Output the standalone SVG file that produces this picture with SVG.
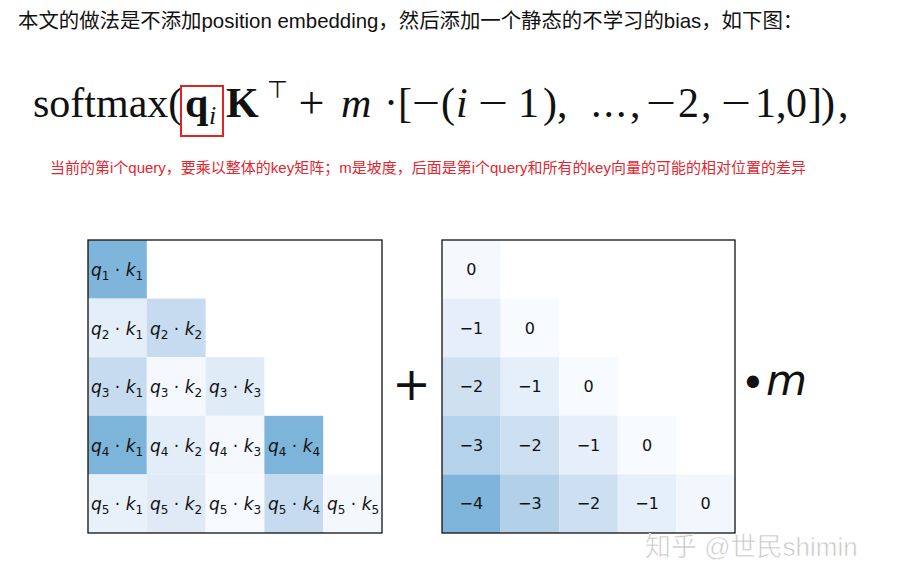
<svg xmlns="http://www.w3.org/2000/svg" width="907" height="578" viewBox="0 0 907 578">
<style>
.hdr{font-family:"Liberation Sans","Noto Sans CJK SC",sans-serif;font-size:20.4px;fill:#111}
.note{font-family:"Liberation Sans","Noto Sans CJK SC",sans-serif;font-size:15px;fill:#e3262f}
.f{font-family:"Liberation Serif","DejaVu Serif",serif;font-size:42px;fill:#111}
.fb{font-weight:bold}
.fi{font-style:italic}
.op{font-family:"DejaVu Sans",sans-serif}
.cell{font-family:"DejaVu Sans",sans-serif;font-size:17px;fill:#111}
.ci{font-style:italic}
.num{font-family:"DejaVu Sans",sans-serif;font-size:16px;fill:#111;text-anchor:middle}
.frame{fill:none;stroke:#111;stroke-width:1.3}
.wm{font-family:"Liberation Sans","Noto Sans CJK SC",sans-serif;font-size:26px;fill:#c8c8c8;stroke:#fff;stroke-width:0.6}
</style>
<rect width="907" height="578" fill="#fff"/>
<g id="header">
<text class="hdr" x="18" y="28">本文的做法是不添加position embedding，然后添加一个静态的不学习的bias，如下图：</text>
</g>
<g id="formula" class="f">
<text x="33" y="117">softmax(</text>
<rect x="181" y="86" width="42" height="50" fill="none" stroke="#e02424" stroke-width="2"/>
<text class="fb" x="185" y="117">q</text>
<text class="fi" x="209" y="124" font-size="26">i</text>
<text class="fb" x="226" y="117">K</text>
<text class="op" x="267" y="98" font-size="24">⊤</text>
<text x="298.5" y="118" font-size="46">+</text>
<text class="fi" x="341" y="117">m</text>
<text x="391" y="117" text-anchor="middle">·</text>
<text x="398" y="117">[</text>
<text x="412" y="117" textLength="28" lengthAdjust="spacingAndGlyphs">−</text>
<text x="441" y="117">(</text>
<text class="fi" x="456" y="117">i</text>
<text x="478" y="117" textLength="30" lengthAdjust="spacingAndGlyphs">−</text>
<text x="518" y="117">1</text>
<text x="543" y="117">)</text>
<text x="557" y="117">,</text>
<text x="591" y="117" letter-spacing="2">...</text>
<text x="630" y="117">,</text>
<text x="646" y="117" textLength="30" lengthAdjust="spacingAndGlyphs">−</text>
<text x="678" y="117">2</text>
<text x="701" y="117">,</text>
<text x="721" y="117" textLength="30" lengthAdjust="spacingAndGlyphs">−</text>
<text x="755" y="117">1</text>
<text x="776" y="117">,</text>
<text x="786" y="117">0</text>
<text x="808" y="117">]</text>
<text x="821" y="117">)</text>
<text x="838" y="117">,</text>
</g>
<g id="note">
<text class="note" x="50" y="173">当前的第i个query，要乘以整体的key矩阵；m是坡度，后面是第i个query和所有的key向量的可能的相对位置的差异</text>
</g>
<g id="qk-matrix">
<rect x="88" y="240" width="58.8" height="58.6" fill="#7fb5da"/>
<rect x="88" y="298.6" width="58.8" height="58.6" fill="#e3eef8"/>
<rect x="146.8" y="298.6" width="58.8" height="58.6" fill="#c6dbef"/>
<rect x="88" y="357.2" width="58.8" height="58.6" fill="#c6dbef"/>
<rect x="146.8" y="357.2" width="58.8" height="58.6" fill="#f5f9fe"/>
<rect x="205.6" y="357.2" width="58.8" height="58.6" fill="#dfebf7"/>
<rect x="88" y="415.8" width="58.8" height="58.6" fill="#7db4d9"/>
<rect x="146.8" y="415.8" width="58.8" height="58.6" fill="#e2edf8"/>
<rect x="205.6" y="415.8" width="58.8" height="58.6" fill="#f5f9fe"/>
<rect x="264.4" y="415.8" width="58.8" height="58.6" fill="#7db4d9"/>
<rect x="88" y="474.4" width="58.8" height="58.6" fill="#e8f1fa"/>
<rect x="146.8" y="474.4" width="58.8" height="58.6" fill="#dfeaf6"/>
<rect x="205.6" y="474.4" width="58.8" height="58.6" fill="#f7fbff"/>
<rect x="264.4" y="474.4" width="58.8" height="58.6" fill="#c6dbef"/>
<rect x="323.2" y="474.4" width="58.8" height="58.6" fill="#f3f8fd"/>
<g class="cell">
<text x="91" y="276"><tspan class="ci">q</tspan><tspan font-size="12" dy="4">1</tspan><tspan dy="-4"> · </tspan><tspan class="ci">k</tspan><tspan font-size="12" dy="4">1</tspan></text>
<text x="91" y="335"><tspan class="ci">q</tspan><tspan font-size="12" dy="4">2</tspan><tspan dy="-4"> · </tspan><tspan class="ci">k</tspan><tspan font-size="12" dy="4">1</tspan></text>
<text x="150" y="335"><tspan class="ci">q</tspan><tspan font-size="12" dy="4">2</tspan><tspan dy="-4"> · </tspan><tspan class="ci">k</tspan><tspan font-size="12" dy="4">2</tspan></text>
<text x="91" y="393"><tspan class="ci">q</tspan><tspan font-size="12" dy="4">3</tspan><tspan dy="-4"> · </tspan><tspan class="ci">k</tspan><tspan font-size="12" dy="4">1</tspan></text>
<text x="150" y="393"><tspan class="ci">q</tspan><tspan font-size="12" dy="4">3</tspan><tspan dy="-4"> · </tspan><tspan class="ci">k</tspan><tspan font-size="12" dy="4">2</tspan></text>
<text x="209" y="393"><tspan class="ci">q</tspan><tspan font-size="12" dy="4">3</tspan><tspan dy="-4"> · </tspan><tspan class="ci">k</tspan><tspan font-size="12" dy="4">3</tspan></text>
<text x="91" y="452"><tspan class="ci">q</tspan><tspan font-size="12" dy="4">4</tspan><tspan dy="-4"> · </tspan><tspan class="ci">k</tspan><tspan font-size="12" dy="4">1</tspan></text>
<text x="150" y="452"><tspan class="ci">q</tspan><tspan font-size="12" dy="4">4</tspan><tspan dy="-4"> · </tspan><tspan class="ci">k</tspan><tspan font-size="12" dy="4">2</tspan></text>
<text x="209" y="452"><tspan class="ci">q</tspan><tspan font-size="12" dy="4">4</tspan><tspan dy="-4"> · </tspan><tspan class="ci">k</tspan><tspan font-size="12" dy="4">3</tspan></text>
<text x="268" y="452"><tspan class="ci">q</tspan><tspan font-size="12" dy="4">4</tspan><tspan dy="-4"> · </tspan><tspan class="ci">k</tspan><tspan font-size="12" dy="4">4</tspan></text>
<text x="91" y="510"><tspan class="ci">q</tspan><tspan font-size="12" dy="4">5</tspan><tspan dy="-4"> · </tspan><tspan class="ci">k</tspan><tspan font-size="12" dy="4">1</tspan></text>
<text x="150" y="510"><tspan class="ci">q</tspan><tspan font-size="12" dy="4">5</tspan><tspan dy="-4"> · </tspan><tspan class="ci">k</tspan><tspan font-size="12" dy="4">2</tspan></text>
<text x="209" y="510"><tspan class="ci">q</tspan><tspan font-size="12" dy="4">5</tspan><tspan dy="-4"> · </tspan><tspan class="ci">k</tspan><tspan font-size="12" dy="4">3</tspan></text>
<text x="268" y="510"><tspan class="ci">q</tspan><tspan font-size="12" dy="4">5</tspan><tspan dy="-4"> · </tspan><tspan class="ci">k</tspan><tspan font-size="12" dy="4">4</tspan></text>
<text x="327" y="510"><tspan class="ci">q</tspan><tspan font-size="12" dy="4">5</tspan><tspan dy="-4"> · </tspan><tspan class="ci">k</tspan><tspan font-size="12" dy="4">5</tspan></text>
</g>
<rect class="frame" x="88" y="240" width="294" height="293"/>
</g>
<g id="plus">
<text x="411.5" y="400" font-family="DejaVu Sans" font-size="46" text-anchor="middle" fill="#111">+</text>
</g>
<g id="bias-matrix">
<rect x="442" y="240" width="58.6" height="58.6" fill="#f5f9fe"/>
<rect x="442" y="298.6" width="58.6" height="58.6" fill="#e6eff9"/>
<rect x="500.6" y="298.6" width="58.6" height="58.6" fill="#f7fbff"/>
<rect x="442" y="357.2" width="58.6" height="58.6" fill="#cfe0f1"/>
<rect x="500.6" y="357.2" width="58.6" height="58.6" fill="#e5eff9"/>
<rect x="559.2" y="357.2" width="58.6" height="58.6" fill="#f7fbff"/>
<rect x="442" y="415.8" width="58.6" height="58.6" fill="#b4d2e9"/>
<rect x="500.6" y="415.8" width="58.6" height="58.6" fill="#cde0f1"/>
<rect x="559.2" y="415.8" width="58.6" height="58.6" fill="#e6eff9"/>
<rect x="617.8" y="415.8" width="58.6" height="58.6" fill="#f7fbff"/>
<rect x="442" y="474.4" width="58.6" height="58.6" fill="#7fb5da"/>
<rect x="500.6" y="474.4" width="58.6" height="58.6" fill="#b2d1e8"/>
<rect x="559.2" y="474.4" width="58.6" height="58.6" fill="#cde0f1"/>
<rect x="617.8" y="474.4" width="58.6" height="58.6" fill="#e5eff9"/>
<rect x="676.4" y="474.4" width="58.6" height="58.6" fill="#f2f7fd"/>
<g class="num">
<text x="471.3" y="275">0</text>
<text x="471.3" y="334">−1</text>
<text x="529.9" y="334">0</text>
<text x="471.3" y="392">−2</text>
<text x="529.9" y="392">−1</text>
<text x="588.5" y="392">0</text>
<text x="471.3" y="451">−3</text>
<text x="529.9" y="451">−2</text>
<text x="588.5" y="451">−1</text>
<text x="647.1" y="451">0</text>
<text x="471.3" y="509">−4</text>
<text x="529.9" y="509">−3</text>
<text x="588.5" y="509">−2</text>
<text x="647.1" y="509">−1</text>
<text x="705.7" y="509">0</text>
</g>
<rect class="frame" x="442" y="240" width="293" height="293"/>
</g>
<g id="m-label" font-family="DejaVu Sans" font-size="42" fill="#111">
<text x="753" y="398" text-anchor="middle">•</text>
<text x="766" y="395" font-style="italic">m</text>
</g>
<g id="watermark">
<text class="wm" x="645" y="556">知乎 @世民shimin</text>
</g>
</svg>
